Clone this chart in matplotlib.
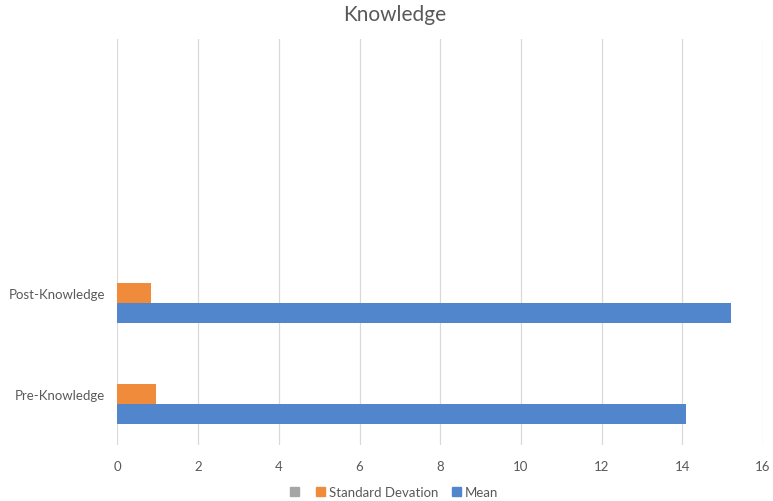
import numpy as np
import matplotlib.pyplot as plt
from matplotlib.patches import Patch

# data
categories = ["Pre-Knowledge", "Post-Knowledge"]
mean_vals = [14.1, 15.2]
sd_vals = [0.95, 0.83]
x_ticks = [0, 2, 4, 6, 8, 10, 12, 14, 16]

blue = "#5186CC"
orange = "#F08B3C"
grey = "#A5A5A5"
text_col = "#595959"

plt.rcParams['font.family'] = ['Lato', 'DejaVu Sans']

fig = plt.figure(figsize=(7.73, 5.02), dpi=100)
ax = fig.add_axes([0.152, 0.112, 0.835, 0.808])

y = np.arange(len(categories))
h = 0.2
ax.barh(y - h, mean_vals, height=h, color=blue, zorder=3)
ax.barh(y, sd_vals, height=h, color=orange, zorder=3)

ax.set_xlim(0, 16)
ax.set_ylim(-0.5, 3.5)
ax.set_xticks(x_ticks)
ax.set_yticks(y)
ax.set_yticklabels(categories)
ax.tick_params(length=0, labelsize=9.5, colors=text_col)
ax.tick_params(axis='x', pad=11)
ax.tick_params(axis='y', pad=9)
ax.grid(axis='x', color="#D9D9D9", linewidth=0.9, zorder=0)
for s in ax.spines.values():
    s.set_visible(False)

fig.suptitle("Knowledge", x=0.51, y=0.99, fontsize=15, color=text_col)

handles = [Patch(color=grey), Patch(color=orange), Patch(color=blue)]
labels = ["", "Standard Devation", "Mean"]
fig.legend(handles, labels, loc="lower center", bbox_to_anchor=(0.51, -0.018),
           ncol=3, frameon=False, fontsize=9.5, labelcolor=text_col,
           handlelength=0.7, handleheight=0.7, handletextpad=0.3,
           columnspacing=1.0)

fig.savefig("out.png", dpi=100)
